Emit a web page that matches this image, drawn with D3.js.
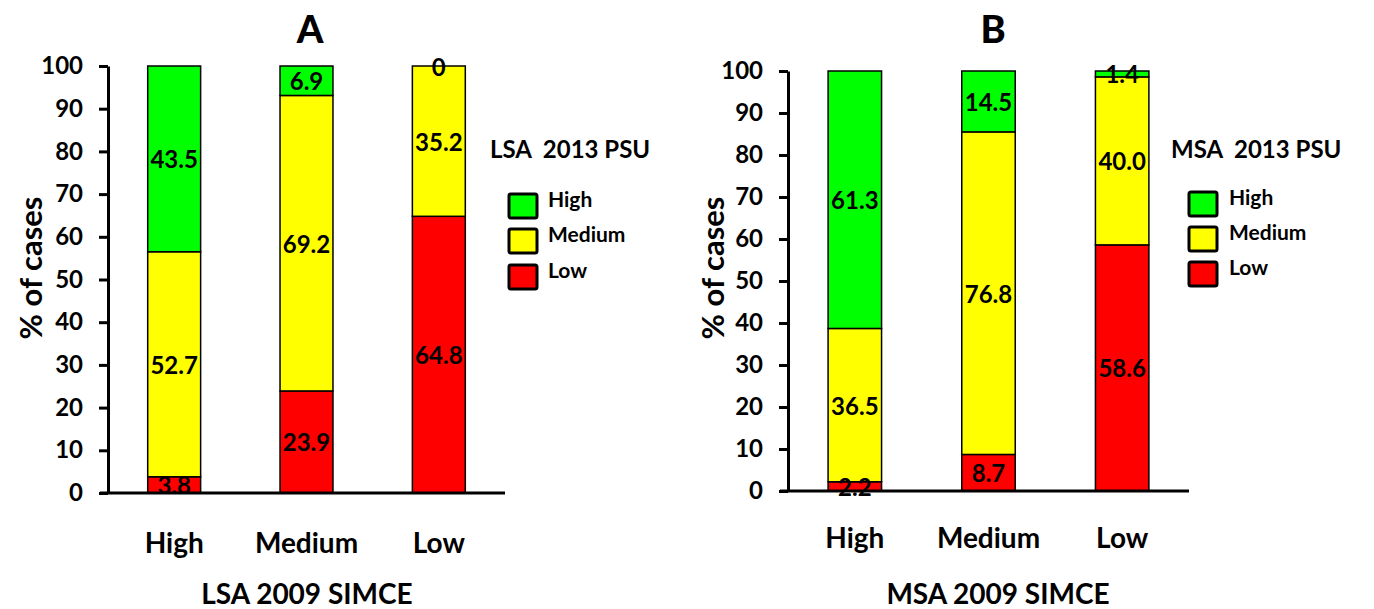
<!DOCTYPE html>
<html><head><meta charset="utf-8">
<script src="https://cdn.jsdelivr.net/npm/d3@7"></script>
<style>body{margin:0;background:#fff}svg{display:block}text{font-family:Lato,"Open Sans",sans-serif;font-weight:700;fill:#000}</style>
</head><body>
<svg id="c" width="1374" height="609"></svg>
<script>
const categories = ["High","Medium","Low"];
const levels = ["Low","Medium","High"]; // stacking order bottom to top
const legendOrder = ["High","Medium","Low"];
const colors = {High:"#00ff00", Medium:"#ffff00", Low:"#ff0000"};
const yTicks = [0,10,20,30,40,50,60,70,80,90,100];

// Panel A (LSA)
const lsaLow = [3.8, 23.9, 64.8];
const lsaMedium = [52.7, 69.2, 35.2];
const lsaHigh = [43.5, 6.9, 0];
// Panel B (MSA)
const msaLow = [2.2, 8.7, 58.6];
const msaMedium = [36.5, 76.8, 40.0];
const msaHigh = [61.3, 14.5, 1.4];

const panels = [
  {title:"A", xTitle:"LSA 2009 SIMCE", legendTitle:"LSA  2013 PSU", Low:lsaLow, Medium:lsaMedium, High:lsaHigh,
   x0:108, x1:505, yTop:66, yBot:493, yLabelX:30, titleX:310, xTitleX:307, catY:543,
   legX:490, legSwX:509, legLabX:548, legY:[194,229,265], legTitleY:148},
  {title:"B", xTitle:"MSA 2009 SIMCE", legendTitle:"MSA  2013 PSU", Low:msaLow, Medium:msaMedium, High:msaHigh,
   x0:788, x1:1189, yTop:71, yBot:491, yLabelX:712, titleX:993, xTitleX:998, catY:538,
   legX:1171, legSwX:1189, legLabX:1229, legY:[192,227,262], legTitleY:148}
];

const svg = d3.select("#c");

panels.forEach(p => {
  const g = svg.append("g");
  const x = d3.scaleBand().domain(categories).range([p.x0, p.x1]).paddingInner(0.6).paddingOuter(0.3);
  const y = d3.scaleLinear().domain([0,100]).range([p.yBot, p.yTop]);

  const rows = categories.map((c,i) => ({cat:c, Low:p.Low[i], Medium:p.Medium[i], High:p.High[i]}));
  const stack = d3.stack().keys(levels)(rows);

  stack.forEach(layer => {
    g.selectAll(null).data(layer).enter().append("rect")
      .attr("x", d => x(d.data.cat))
      .attr("width", x.bandwidth())
      .attr("y", d => y(d[1]))
      .attr("height", d => y(d[0]) - y(d[1]))
      .attr("fill", colors[layer.key])
      .attr("stroke", "#000").attr("stroke-width", 1.5);
  });
  stack.forEach(layer => {
    g.selectAll(null).data(layer).enter().append("text")
      .attr("x", d => x(d.data.cat) + x.bandwidth()/2)
      .attr("y", d => (y(d[0]) + y(d[1]))/2)
      .attr("text-anchor","middle").attr("dominant-baseline","central")
      .style("font-size","24px")
      .text(d => { const v = d.data[layer.key]; return v === 0 ? "0" : v.toFixed(1); });
  });

  // y axis
  const yAxis = d3.axisLeft(y).tickValues(yTicks).tickSize(9).tickPadding(16).tickSizeOuter(0);
  const ya = g.append("g").attr("transform", `translate(${p.x0},0)`).call(yAxis);
  ya.select(".domain").attr("stroke","#000").attr("stroke-width",3);
  ya.selectAll(".tick line").attr("stroke","#000").attr("stroke-width",3);
  ya.selectAll(".tick text").style("font-size","24px").style("font-family","Lato,sans-serif").style("font-weight","700").attr("fill","#000");

  // x axis
  const xAxis = d3.axisBottom(x).tickSize(0).tickPadding(0).tickSizeOuter(0);
  const xa = g.append("g").attr("transform", `translate(0,${p.yBot})`).call(xAxis);
  xa.select(".domain").attr("stroke","#000").attr("stroke-width",3).attr("d", `M${p.x0-8},0H${p.x1}`);
  xa.selectAll(".tick text").attr("y", p.catY - p.yBot).attr("dy","0.35em")
    .style("font-size","28px").style("font-family","Lato,sans-serif").style("font-weight","700").attr("fill","#000");

  // titles
  g.append("text").attr("x", p.titleX).attr("y", 28).attr("text-anchor","middle").attr("dominant-baseline","central")
    .style("font-size","38px").style("font-weight","900").text(p.title);
  g.append("text").attr("x", p.xTitleX).attr("y", 593).attr("text-anchor","middle").attr("dominant-baseline","central")
    .style("font-size","28px").text(p.xTitle);
  g.append("text").attr("transform", `translate(${p.yLabelX},268) rotate(-90)`).attr("text-anchor","middle").attr("dominant-baseline","central")
    .style("font-size","31px").text("% of cases");

  // legend
  g.append("text").attr("x", p.legX).attr("y", p.legTitleY).attr("dominant-baseline","central")
    .style("font-size","24px").attr("xml:space","preserve").text(p.legendTitle);
  legendOrder.forEach((k,i) => {
    g.append("rect").attr("x", p.legSwX).attr("y", p.legY[i]).attr("width", 28).attr("height", 24)
      .attr("fill", colors[k]).attr("stroke","#000").attr("stroke-width",3).attr("rx",2);
    g.append("text").attr("x", p.legLabX).attr("y", p.legY[i] + 4).attr("dominant-baseline","central")
      .style("font-size","21px").text(k);
  });
});
</script>
</body></html>
